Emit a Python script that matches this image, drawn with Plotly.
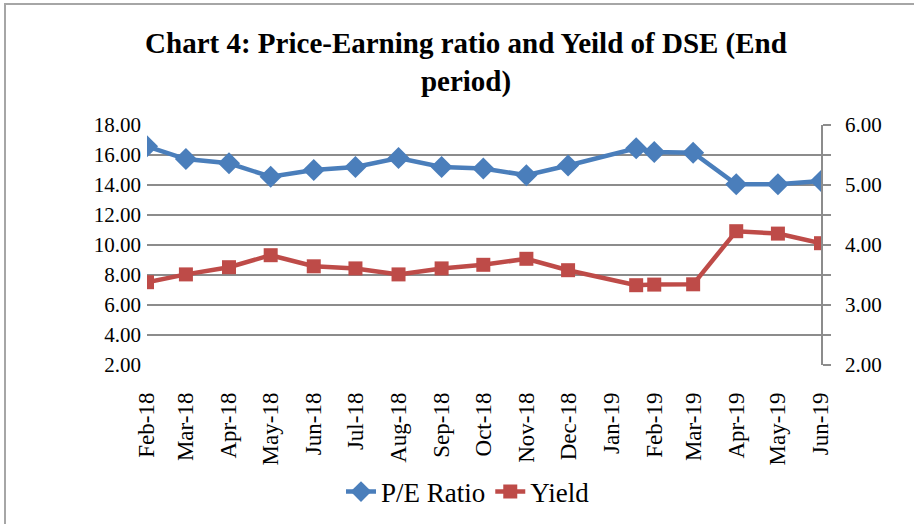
import plotly.graph_objects as go

# ---- data ----
dates = ["2018-02-01", "2018-03-01", "2018-04-01", "2018-05-01", "2018-06-01",
         "2018-07-01", "2018-08-01", "2018-09-01", "2018-10-01", "2018-11-01",
         "2018-12-01", "2019-01-19", "2019-02-01", "2019-03-01", "2019-04-01",
         "2019-05-01", "2019-06-01"]
pe_ratio = [16.58, 15.73, 15.45, 14.55, 15.00, 15.20, 15.80, 15.20, 15.10, 14.65,
            15.30, 16.45, 16.20, 16.15, 14.05, 14.05, 14.27]
yield_vals = [3.38, 3.51, 3.63, 3.83, 3.645, 3.61, 3.51, 3.61, 3.67, 3.77,
              3.58, 3.33, 3.34, 3.345, 4.23, 4.19, 4.03]

tick_dates = ["2018-02-01", "2018-03-01", "2018-04-01", "2018-05-01", "2018-06-01",
              "2018-07-01", "2018-08-01", "2018-09-01", "2018-10-01", "2018-11-01",
              "2018-12-01", "2019-01-01", "2019-02-01", "2019-03-01", "2019-04-01",
              "2019-05-01", "2019-06-01"]
tick_labels = ["Feb-18", "Mar-18", "Apr-18", "May-18", "Jun-18", "Jul-18", "Aug-18",
               "Sep-18", "Oct-18", "Nov-18", "Dec-18", "Jan-19", "Feb-19", "Mar-19",
               "Apr-19", "May-19", "Jun-19"]

left_ticks = [2, 4, 6, 8, 10, 12, 14, 16, 18]
right_ticks = [2, 3, 4, 5, 6]

FONT = "Liberation Serif"
BLUE = "#4A7EBB"
RED = "#BE4B48"
GRID = "#8C8C8C"

W, H = 914, 524
ML, MR, MT, MB = 147, 93, 125, 159

fig = go.Figure()
fig.add_trace(go.Scatter(
    x=dates, y=pe_ratio, name="P/E Ratio", mode="lines+markers",
    line=dict(color=BLUE, width=4.5),
    marker=dict(symbol="diamond", size=17, color=BLUE),
))
fig.add_trace(go.Scatter(
    x=dates, y=yield_vals, name="Yield", mode="lines+markers", yaxis="y2",
    line=dict(color=RED, width=4.5),
    marker=dict(symbol="square", size=14, color=RED),
))

pw = W - ML - MR
ph = H - MT - MB
# outer chart border (in paper coordinates)
fig.add_shape(type="rect", xref="paper", yref="paper",
              x0=(5 - ML) / pw, x1=(W + 10 - ML) / pw,
              y0=(H - MB - (H + 10)) / ph, y1=(H - MB - 4) / ph,
              line=dict(color="#A6A6A6", width=2), fillcolor="rgba(0,0,0,0)",
              layer="below")

fig.update_layout(
    width=W, height=H,
    margin=dict(l=ML, r=MR, t=MT, b=MB, autoexpand=False),
    paper_bgcolor="white", plot_bgcolor="white",
    font=dict(family=FONT, size=21, color="black"),
    title=dict(text="<b>Chart 4: Price-Earning ratio and Yeild of DSE (End<br>period)</b>",
               x=(466 / W), xanchor="center", xref="container",
               y=1 - 53 / H, yanchor="top", yref="container",
               font=dict(family=FONT, size=29, color="black")),
    showlegend=True,
    legend=dict(orientation="h", x=(468 - ML) / pw, xanchor="center",
                yref="container", y=1 - 492 / H, yanchor="middle",
                font=dict(family=FONT, size=27), bgcolor="rgba(0,0,0,0)"),
    xaxis=dict(
        type="date", range=[tick_dates[0], tick_dates[-1]],
        tickmode="array", tickvals=tick_dates, ticktext=tick_labels,
        tickangle=-90, showgrid=False, zeroline=False, showline=False,
        ticks="", ticklabelstandoff=22, automargin=False,
        tickfont=dict(family=FONT, size=23),
    ),
    yaxis=dict(
        range=[2, 18], tickmode="array", tickvals=left_ticks,
        ticktext=[f"{v:.2f}" for v in left_ticks],
        showgrid=True, gridcolor=GRID, gridwidth=1.5, zeroline=False,
        showline=False, ticks="", automargin=False, ticklabelstandoff=5,
        tickfont=dict(family=FONT, size=21),
    ),
    yaxis2=dict(
        range=[2, 6], overlaying="y", side="right", tickmode="array",
        tickvals=right_ticks, ticktext=[f"{v:.2f}" for v in right_ticks],
        showgrid=False, zeroline=False, showline=True, linecolor=GRID, linewidth=1.5,
        ticks="outside", ticklen=8, tickcolor=GRID, tickwidth=1.5, automargin=False,
        minor=dict(dtick=0.5, ticks="outside", ticklen=8, tickcolor=GRID, tickwidth=1.5),
        ticklabelstandoff=10,
        tickfont=dict(family=FONT, size=21),
    ),
)

fig.write_html("out.html", config={"displayModeBar": False},
               post_script="document.body.style.margin='0';document.body.style.overflow='hidden';")
